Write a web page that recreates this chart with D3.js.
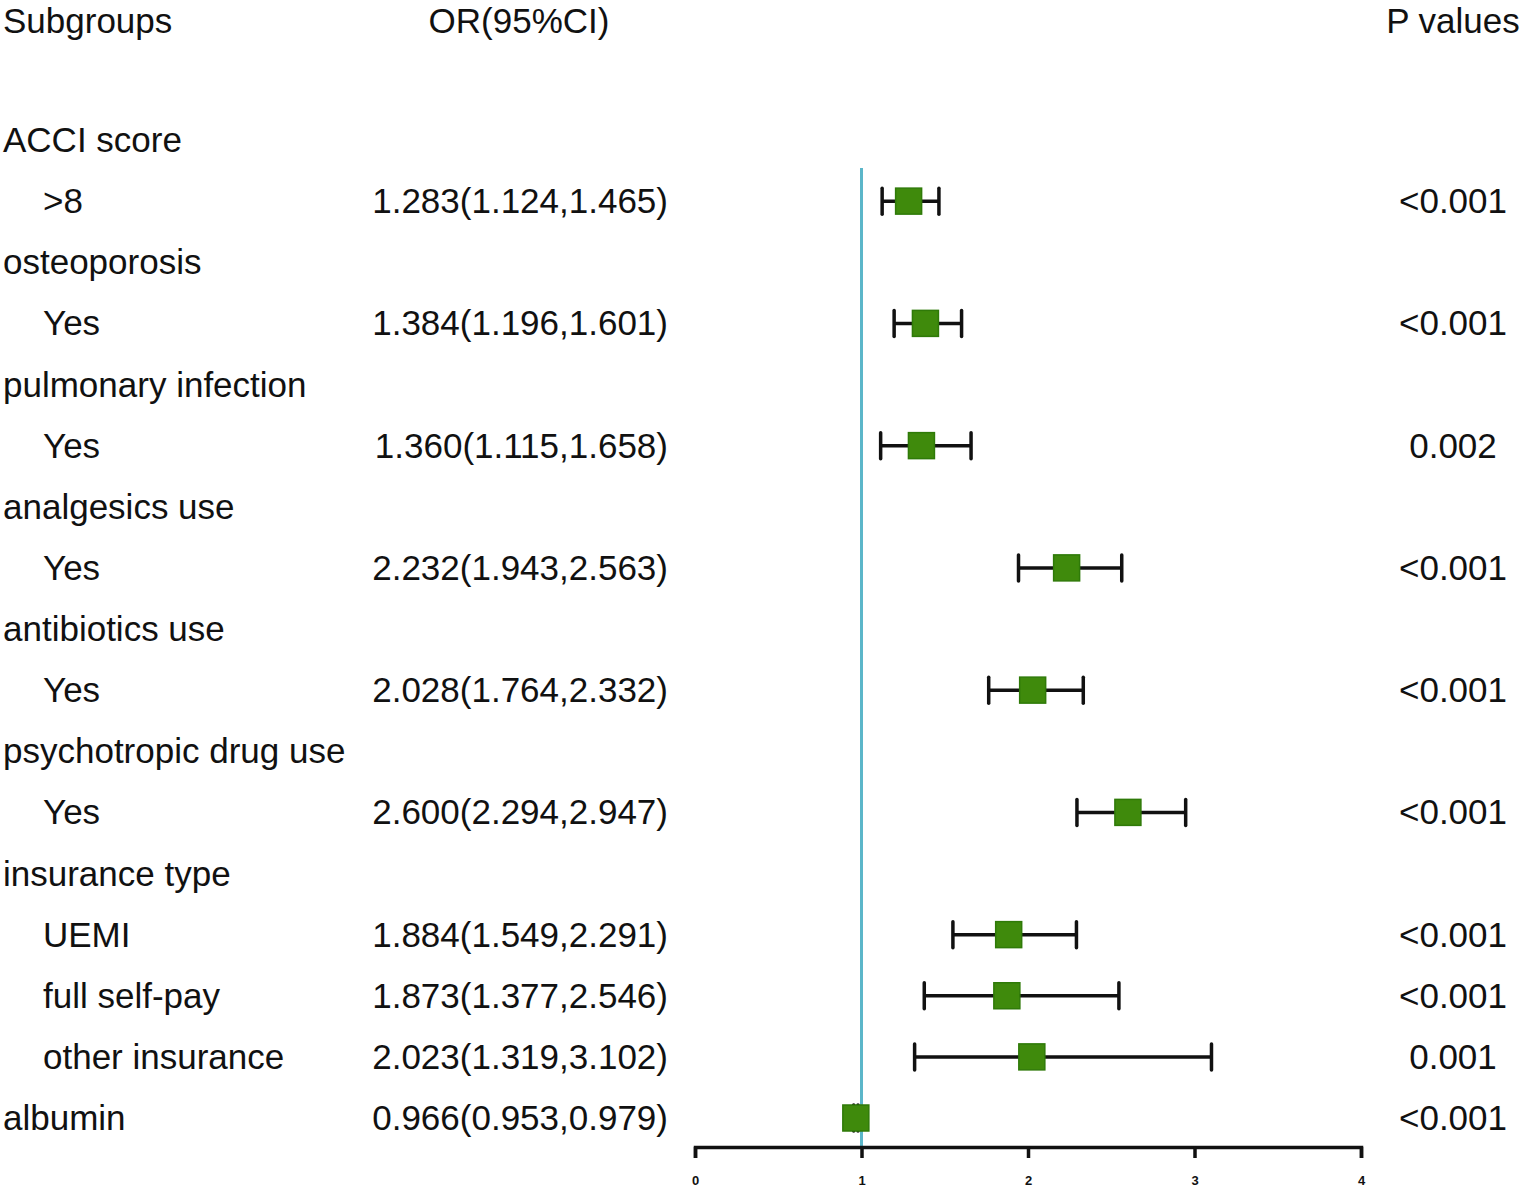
<!DOCTYPE html>
<html>
<head>
<meta charset="utf-8">
<script src="https://cdn.jsdelivr.net/npm/d3@7"></script>
<style>
  body { margin: 0; background: #fff; }
  text { font-family: "Liberation Sans", Arial, sans-serif; fill: #111; }
</style>
</head>
<body>
<div id="chart"></div>
<script>
// rows top to bottom; group headers have no estimate
var rowLabels = ["ACCI score", ">8", "osteoporosis", "Yes", "pulmonary infection", "Yes",
                 "analgesics use", "Yes", "antibiotics use", "Yes", "psychotropic drug use", "Yes",
                 "insurance type", "UEMI", "full self-pay", "other insurance", "albumin"];
var rowIndent = [0, 1, 0, 1, 0, 1, 0, 1, 0, 1, 0, 1, 0, 1, 1, 1, 0];
var orValues = [null, 1.283, null, 1.384, null, 1.360, null, 2.232, null, 2.028, null, 2.600,
                null, 1.884, 1.873, 2.023, 0.966];
var lowerCI  = [null, 1.124, null, 1.196, null, 1.115, null, 1.943, null, 1.764, null, 2.294,
                null, 1.549, 1.377, 1.319, 0.953];
var upperCI  = [null, 1.465, null, 1.601, null, 1.658, null, 2.563, null, 2.332, null, 2.947,
                null, 2.291, 2.546, 3.102, 0.979];
var pValues  = ["", "<0.001", "", "<0.001", "", "0.002", "", "<0.001", "", "<0.001", "",
                "<0.001", "", "<0.001", "<0.001", "0.001", "<0.001"];
var xTicks = [0, 1, 2, 3, 4];

function init() {
    var w = 1523, h = 1189;
    var svg = d3.select("#chart").append("svg")
        .attr("width", w)
        .attr("height", h);

    var x = d3.scaleLinear().domain([0, 4]).range([695, 1361]);
    var y = d3.scalePoint().domain(d3.range(rowLabels.length)).range([140, 1118]);
    var axisY = 1147;
    var fs = 35;

    // column headers
    svg.append("text").attr("x", 3).attr("y", 33).attr("font-size", fs).text("Subgroups");
    svg.append("text").attr("x", 519).attr("y", 33).attr("font-size", fs)
        .attr("text-anchor", "middle").text("OR(95%CI)");
    svg.append("text").attr("x", 1453).attr("y", 33).attr("font-size", fs)
        .attr("text-anchor", "middle").text("P values");

    var rows = d3.range(rowLabels.length);

    // labels
    svg.selectAll(".lab").data(rows).enter().append("text")
        .attr("class", "lab")
        .attr("x", function(i) { return rowIndent[i] ? 43 : 3; })
        .attr("y", function(i) { return y(i) + 12; })
        .attr("font-size", fs)
        .text(function(i) { return rowLabels[i]; });

    var est = rows.filter(function(i) { return orValues[i] != null; });

    svg.selectAll(".ci").data(est).enter().append("text")
        .attr("class", "ci")
        .attr("x", 668)
        .attr("y", function(i) { return y(i) + 12; })
        .attr("text-anchor", "end")
        .attr("font-size", fs)
        .text(function(i) {
            return orValues[i].toFixed(3) + "(" + lowerCI[i].toFixed(3) + "," + upperCI[i].toFixed(3) + ")";
        });

    svg.selectAll(".pv").data(est).enter().append("text")
        .attr("class", "pv")
        .attr("x", 1453)
        .attr("y", function(i) { return y(i) + 12; })
        .attr("text-anchor", "middle")
        .attr("font-size", fs)
        .text(function(i) { return pValues[i]; });

    // reference line at OR = 1
    svg.append("line")
        .attr("x1", x(1)).attr("x2", x(1))
        .attr("y1", 168).attr("y2", axisY)
        .attr("stroke", "#5bb6c9")
        .attr("stroke-width", 3);

    // whiskers
    var g = svg.append("g");
    g.selectAll(".wl").data(est).enter().append("line")
        .attr("x1", function(i) { return x(lowerCI[i]); })
        .attr("x2", function(i) { return x(upperCI[i]); })
        .attr("y1", function(i) { return y(i); })
        .attr("y2", function(i) { return y(i); })
        .attr("stroke", "#111").attr("stroke-width", 3.5);
    [lowerCI, upperCI].forEach(function(arr) {
        g.selectAll(null).data(est).enter().append("line")
            .attr("x1", function(i) { return x(arr[i]); })
            .attr("x2", function(i) { return x(arr[i]); })
            .attr("y1", function(i) { return y(i) - 13; })
            .attr("y2", function(i) { return y(i) + 13; })
            .attr("stroke", "#111").attr("stroke-width", 3.5)
            .attr("stroke-linecap", "round");
    });

    // point estimates
    var s = 26;
    g.selectAll(".pt").data(est).enter().append("rect")
        .attr("x", function(i) { return x(orValues[i]) - s / 2; })
        .attr("y", function(i) { return y(i) - s / 2; })
        .attr("width", s).attr("height", s)
        .attr("fill", "#3f8a0c")
        .attr("stroke", "#2f7a08")
        .attr("stroke-width", 1.5);

    // x axis
    var axis = svg.append("g")
        .attr("transform", "translate(0," + axisY + ")")
        .call(d3.axisBottom(x).tickValues(xTicks).tickFormat(d3.format("d"))
            .tickSize(11).tickSizeOuter(11).tickPadding(18));
    axis.select(".domain").attr("stroke", "#111").attr("stroke-width", 3.5);
    axis.selectAll(".tick line").attr("stroke", "#111").attr("stroke-width", 3.5);
    axis.selectAll(".tick text")
        .attr("font-size", 13)
        .attr("font-weight", "bold")
        .attr("fill", "#111")
        .style("font-family", "Liberation Sans, Arial, sans-serif");
}
window.onload = init;
</script>
</body>
</html>
